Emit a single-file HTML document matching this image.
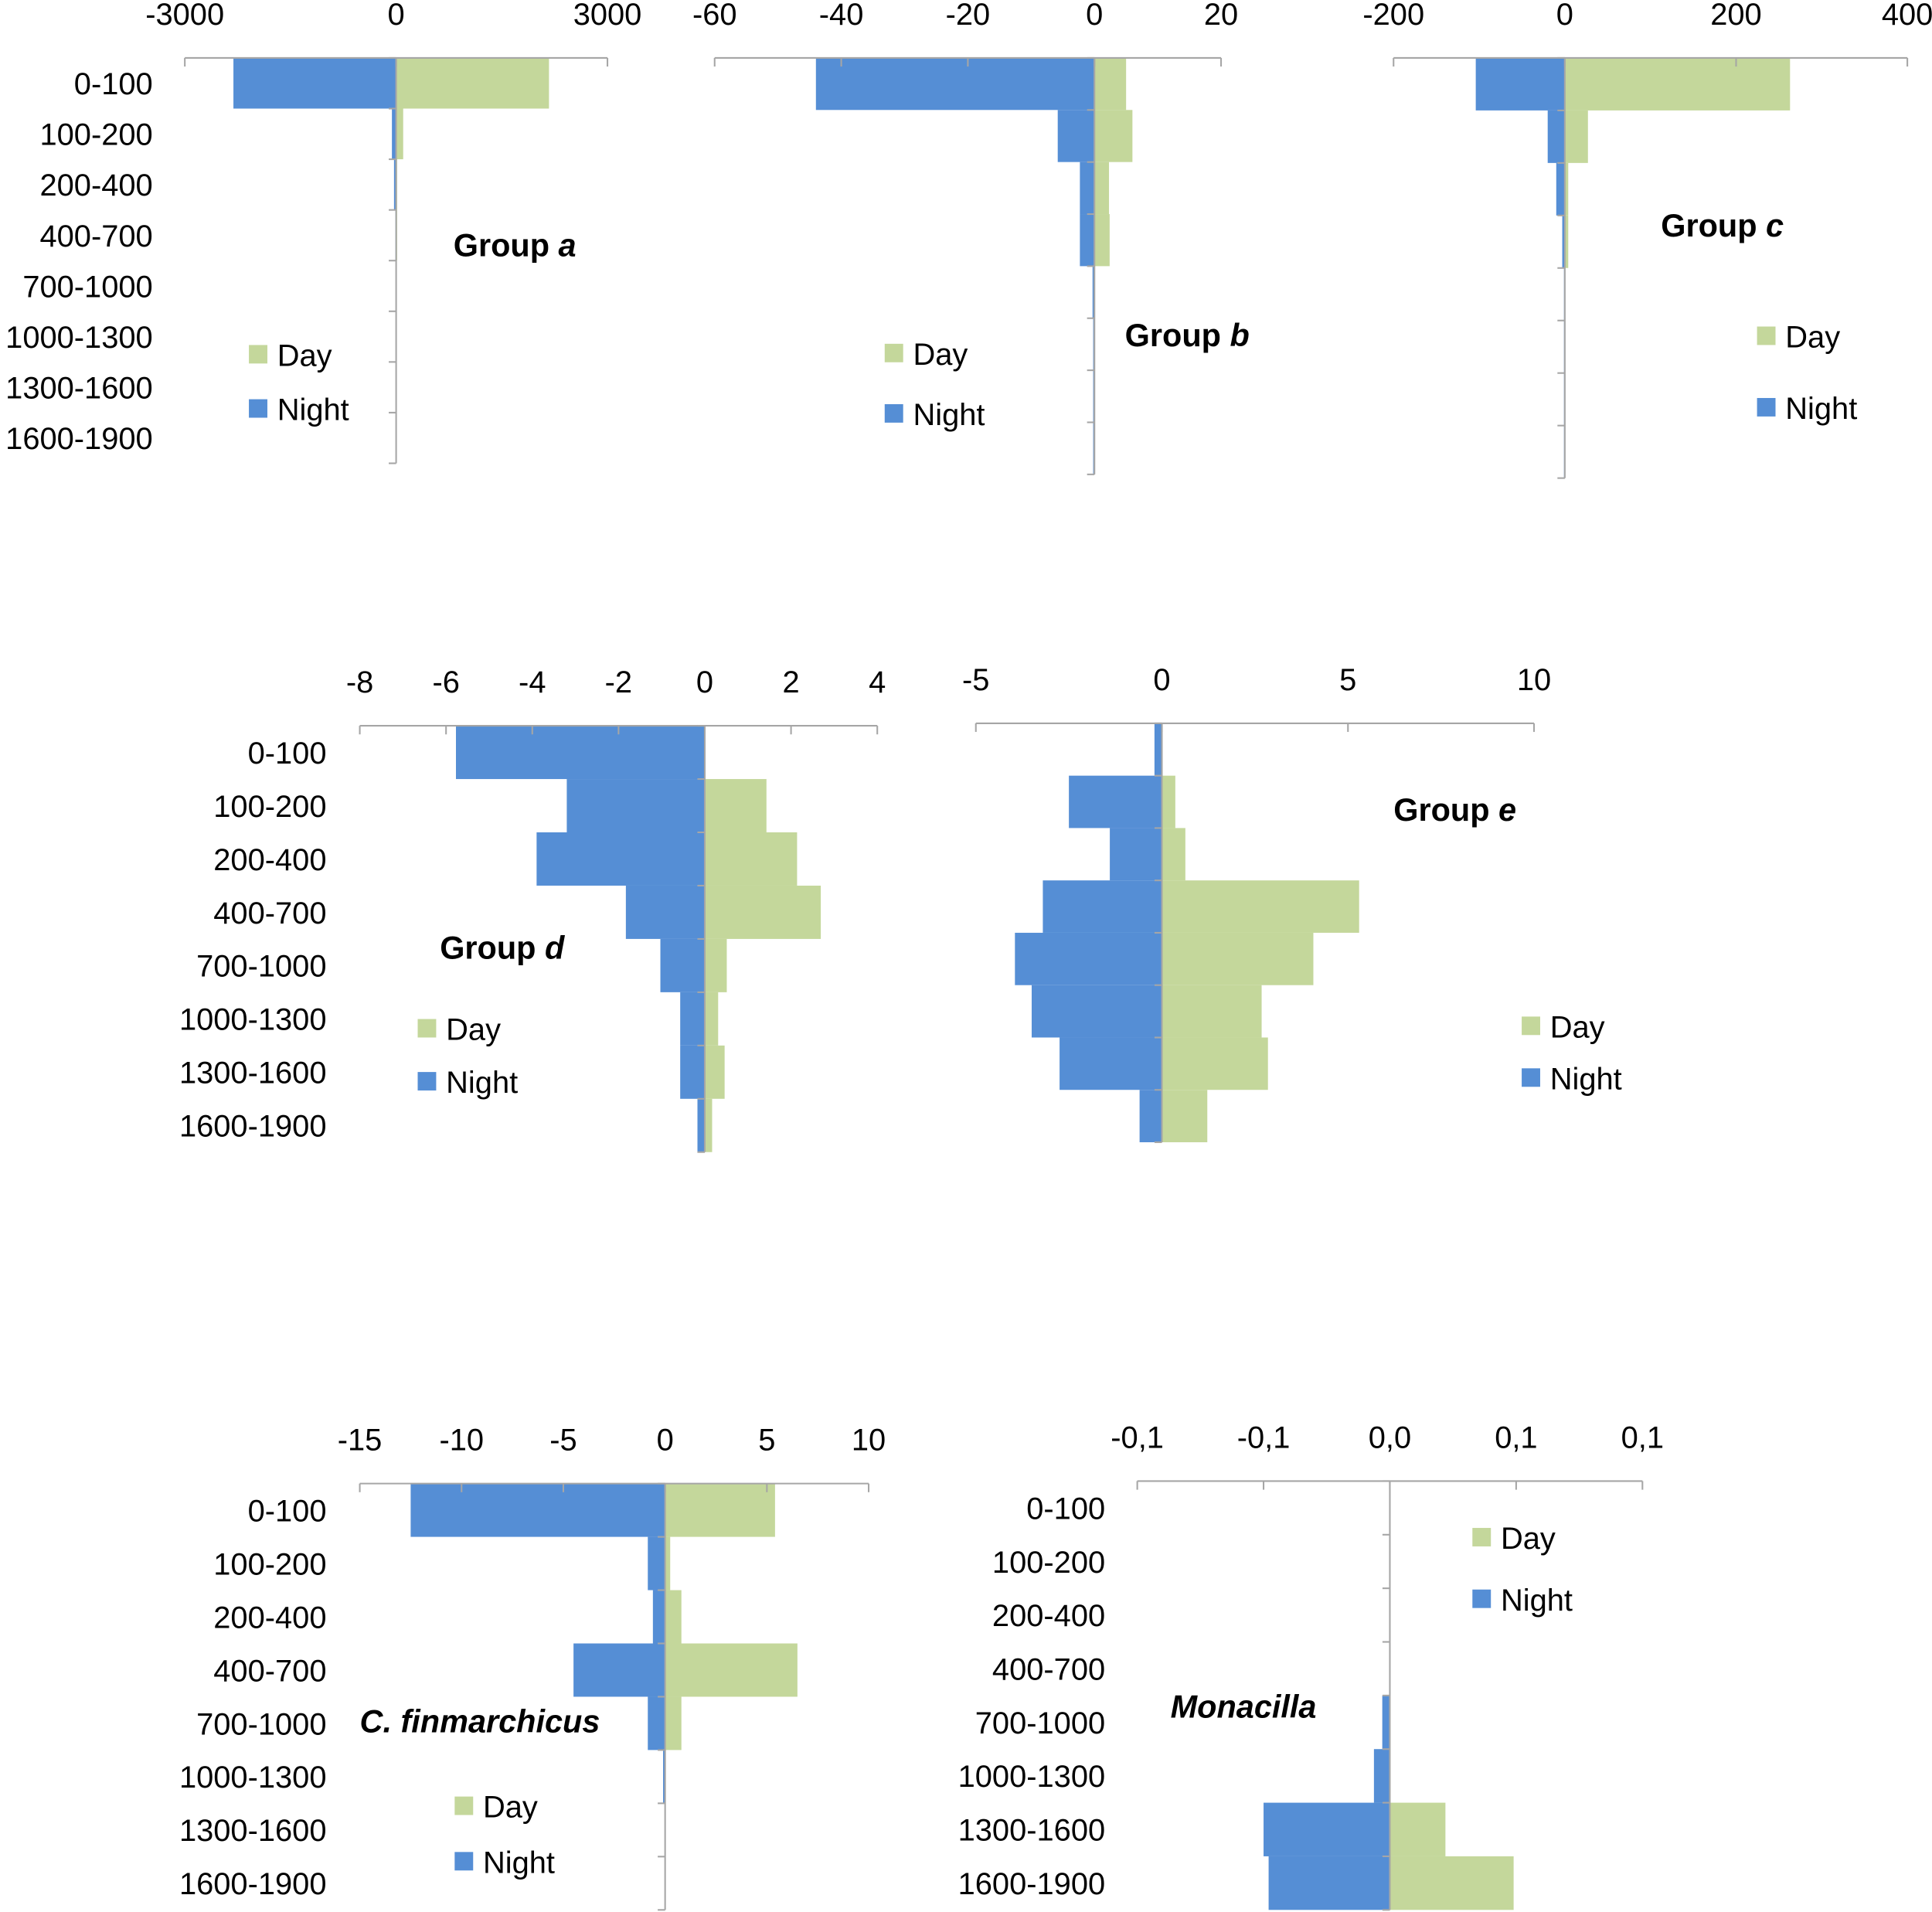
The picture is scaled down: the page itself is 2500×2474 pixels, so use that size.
<!DOCTYPE html>
<html><head><meta charset="utf-8"><style>
html,body{margin:0;padding:0;background:#fff;}
svg{display:block;}
text{font-family:"Liberation Sans","DejaVu Sans",sans-serif;fill:#000;}
</style></head><body>
<svg id="chart" width="2500" height="2474" viewBox="0 0 1568 1551.7" preserveAspectRatio="none" xmlns="http://www.w3.org/2000/svg"></svg>
<script>
const categories = ['0-100','100-200','200-400','400-700','700-1000','1000-1300','1300-1600','1600-1900'];
const dayA = [2170, 100, 10, 5, 0, 0, 0, 0];
const nightA = [-2310, -60, -30, -10, -5, -5, -5, -5];
const dayB = [5, 6, 2.3, 2.4, 0, 0, 0, 0];
const nightB = [-44, -5.8, -2.3, -2.3, -0.3, -0.2, -0.2, -0.2];
const dayC = [263, 27, 4, 4, 0, 0, 0, 0];
const nightC = [-104, -20, -10, -3, -1, -1, -1, -1];
const dayD = [0, 1.43, 2.14, 2.69, 0.51, 0.31, 0.46, 0.17];
const nightD = [-5.77, -3.2, -3.9, -1.83, -1.03, -0.57, -0.57, -0.17];
const dayE = [0, 0.36, 0.63, 5.3, 4.07, 2.68, 2.85, 1.22];
const nightE = [-0.2, -2.5, -1.4, -3.2, -3.95, -3.5, -2.75, -0.6];
const dayF = [5.4, 0.25, 0.8, 6.5, 0.8, 0, 0, 0];
const nightF = [-12.5, -0.85, -0.6, -4.5, -0.85, -0.1, 0, 0];
const dayG = [0, 0, 0, 0, 0, 0, 0.022, 0.049];
const nightG = [0, 0, 0, 0, -0.003, -0.0063, -0.05, -0.048];
const ticksA = [-3000, 0, 3000];
const ticksB = [-60, -40, -20, 0, 20];
const ticksC = [-200, 0, 200, 400];
const ticksD = [-8, -6, -4, -2, 0, 2, 4];
const ticksE = [-5, 0, 5, 10];
const ticksF = [-15, -10, -5, 0, 5, 10];
const ticksG = [-0.1, -0.05, 0, 0.05, 0.1];
const tickLabelsG = ['-0,1', '-0,1', '0,0', '0,1', '0,1'];

const NS = 'http://www.w3.org/2000/svg';
const svg = document.getElementById('chart');
const DAY = '#c4d79b', NIGHT = '#558ed5', AXIS = '#a6a6a6';
const FS = 25;
function mk(tag, attrs, parent) {
  const e = document.createElementNS(NS, tag);
  for (const k in attrs) e.setAttribute(k, attrs[k]);
  (parent || svg).appendChild(e);
  return e;
}
function panel(o) {
  const g = mk('g', {});
  
  
  const vmin = o.ticks[0], vmax = o.ticks[o.ticks.length - 1];
  const xs = v => o.x0 + (v - vmin) / (vmax - vmin) * (o.x1 - o.x0);
  const rowH = (o.y1 - o.y0) / categories.length;
  const ys = i => o.y0 + i * rowH;
  categories.forEach((c, i) => {
    [[o.day, DAY, 'day'], [o.night, NIGHT, 'night']].forEach(([arr, col, nm]) => {
      const v = arr[i];
      if (v === 0) return;
      const a = xs(0), b = xs(v);
      const r = mk('rect', {x: Math.min(a, b), y: ys(i), width: Math.max(0.8, Math.abs(b - a)), height: rowH, fill: col}, g);
      
      
    });
  });
  const ax = mk('line', {x1: o.x0, x2: o.x1, y1: o.y0, y2: o.y0, stroke: AXIS, 'stroke-width': 1.3}, g);
  
  
  o.ticks.forEach((t, k) => {
    mk('line', {x1: xs(t), x2: xs(t), y1: o.y0, y2: o.y0 + 7, stroke: AXIS, 'stroke-width': 1.3}, g);
    const tx = mk('text', {x: xs(t), y: o.y0 - 27, 'font-size': FS, 'text-anchor': 'middle'}, g);
    tx.textContent = o.tickLabels ? o.tickLabels[k] : String(t);
    
    
  });
  const cx = mk('line', {x1: xs(0), x2: xs(0), y1: o.y0, y2: o.y1, stroke: AXIS, 'stroke-width': 1.3}, g);
  
  
  for (let i = 0; i <= categories.length; i++) {
    mk('line', {x1: xs(0) - 6, x2: xs(0), y1: ys(i), y2: ys(i), stroke: AXIS, 'stroke-width': 1.3}, g);
  }
  if (o.labelX) {
    categories.forEach((c, i) => {
      const t = mk('text', {x: o.labelX, y: ys(i) + rowH / 2 + 9, 'font-size': FS, 'text-anchor': 'end'}, g);
      t.textContent = c;
      
      
    });
  }
  const tt = mk('text', {x: o.tx, y: o.ty + 9, 'font-size': 26, 'font-weight': 'bold', 'font-style': o.italic ? 'italic' : 'normal'}, g);
  
  
  if (o.titleParts) {
    tt.textContent = o.titleParts[0];
    const ts = mk('tspan', {'font-style': 'italic'}, tt);
    ts.textContent = o.titleParts[1];
  } else tt.textContent = o.title;
  [[o.lx, o.ly1, DAY, 'Day'], [o.lx, o.ly2, NIGHT, 'Night']].forEach(([x, y, col, lab]) => {
    const lg = mk('g', {}, g);
    
    
    mk('rect', {x: x - 8, y: y - 8, width: 15, height: 15, fill: col}, lg);
    const t = mk('text', {x: x + 15, y: y + 9, 'font-size': FS}, lg);
    t.textContent = lab;
  });
}
panel({id:'group-a', day:dayA, night:nightA, ticks:ticksA, x0:150, x1:493, y0:47, y1:376, labelX:124, titleParts:['Group ','a'], tx:368, ty:199, lx:210, ly1:288, ly2:332});
panel({id:'group-b', day:dayB, night:nightB, ticks:ticksB, x0:580, x1:991, y0:47, y1:385, titleParts:['Group ','b'], tx:913, ty:272, lx:726, ly1:287, ly2:336});
panel({id:'group-c', day:dayC, night:nightC, ticks:ticksC, x0:1131, x1:1548, y0:47, y1:388, titleParts:['Group ','c'], tx:1348, ty:183, lx:1434, ly1:273, ly2:331});
panel({id:'group-d', day:dayD, night:nightD, ticks:ticksD, x0:292, x1:712, y0:589, y1:935, labelX:265, titleParts:['Group ','d'], tx:357, ty:769, lx:347, ly1:835, ly2:878});
panel({id:'group-e', day:dayE, night:nightE, ticks:ticksE, x0:792, x1:1245, y0:587, y1:927, titleParts:['Group ','e'], tx:1131, ty:657, lx:1243, ly1:833, ly2:875});
panel({id:'c-finmarchicus', day:dayF, night:nightF, ticks:ticksF, x0:292, x1:705, y0:1204, y1:1550, labelX:265, title:'C. finmarchicus', italic:true, tx:292, ty:1397, lx:377, ly1:1466, ly2:1511});
panel({id:'monacilla', day:dayG, night:nightG, ticks:ticksG, tickLabels:tickLabelsG, x0:923, x1:1333, y0:1202, y1:1550, labelX:897, title:'Monacilla', italic:true, tx:950, ty:1385, lx:1203, ly1:1248, ly2:1298});
</script>
</body></html>
